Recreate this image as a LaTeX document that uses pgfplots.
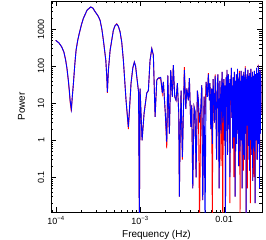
\documentclass[border=0pt]{standalone}
\usepackage{fontspec}
\setmainfont{Liberation Sans}
\usepackage{pgfplots}
\usepackage{pgfplotstable}
\pgfplotsset{compat=1.18}
\pgfplotstableread{
f b r
9.90e-5 500 500
1.08e-4 430 430
1.17e-4 330 330
1.24e-4 240 240
1.30e-4 145 150
1.35e-4 85 85
1.40e-4 42 40
1.44e-4 22 20
1.47e-4 12 11
1.52e-4 7 6
1.56e-4 15 15
1.61e-4 35 35
1.67e-4 110 110
1.73e-4 270 270
1.81e-4 500 500
1.89e-4 780 780
2.00e-4 1300 1300
2.11e-4 1950 1950
2.34e-4 3300 3300
2.59e-4 4000 4000
2.75e-4 3700 3700
2.91e-4 3000 3000
3.16e-4 2300 2300
3.34e-4 1750 1750
3.51e-4 1000 1000
3.66e-4 500 500
3.91e-4 145 145
4.02e-4 50 50
4.08e-4 20 19
4.20e-4 80 80
4.40e-4 270 270
4.81e-4 940 940
5.04e-4 1250 1250
5.28e-4 1370 1400
5.52e-4 1200 1200
5.78e-4 850 850
6.05e-4 450 450
6.33e-4 145 145
6.81e-4 12 12
7.26e-4 2.3 2.0
7.81e-4 35 35
8.20e-4 90 90
8.55e-4 130 130
8.85e-4 100 100
9.14e-4 52 52
9.60e-4 20 20
9.81e-4 0.005 0.005
1.000e-3 25 25
1.057e-3 1.0 1.0
1.117e-3 5.4 5.4
1.202e-3 19 19
1.256e-3 22 22
1.315e-3 145 145
1.378e-3 300 300
1.440e-3 200 200
1.510e-3 4.3 4.3
1.581e-3 42 42
1.652e-3 48 48
1.763e-3 50 45
1.841e-3 19 19
1.893e-3 38 38
1.999e-3 5.3 5.3
2.079e-3 0.9 0.6
2.138e-3 57 57
2.234e-3 1.5 1.5
2.317e-3 78 78
2.420e-3 15 15
2.488e-3 107 107
2.587e-3 15 15
2.683e-3 12 12
2.780e-3 35 33
2.889e-3 5.4 5.4
2.937e-3 0.03 0.03
2.992e-3 0.83 0.83
3.076e-3 22 22
3.191e-3 0.35 0.3
3.368e-3 78 95
3.502e-3 7 7
3.600e-3 25 25
3.760e-3 12 12
3.866e-3 48 48
4.019e-3 2.3 2.3
4.126e-3 9 9
4.240e-3 0.05 0.05
4.395e-3 8 8
4.518e-3 6 6
4.644e-3 0.1 0.1
4.812e-3 22 22
4.948e-3 12 12
5.108e-3 3 0.005
5.281e-3 7 7
5.430e-3 31 31
5.574e-3 0.024 0.024
5.782e-3 15 15
5.943e-3 0.005 5
6.109e-3 38 38
6.327e-3 15 15
6.504e-3 60 65
6.686e-3 12 12
0.00680 35 35
0.00695 2.0 2.0
0.00710 25 25
0.00725 0.8 0.01
0.00740 45 45
0.00755 12 12
0.00770 3 3
0.00785 55 60
0.00800 8 8
0.00815 0.3 0.3
0.00830 30 30
0.00845 60 60
0.00860 5 5
0.00875 0.05 0.05
0.00890 40 40
0.00905 15 15
0.00920 1.5 0.2
0.00935 25 25
0.00950 70 70
0.00965 3 0.005
0.00980 20 20
0.00995 45 45
0.01010 1.0 1.0
0.01025 30 30
0.01040 0.01 0.01
0.01055 50 50
0.01070 8 8
0.01085 80 80
0.01100 0.4 0.4
0.01115 25 25
0.01130 60 60
0.01145 2 2
0.01160 35 35
0.01175 0.1 0.02
0.01190 45 45
0.01205 12 12
0.01220 90 90
0.01235 4 4
0.012500 30 30
0.012575 8 8
0.012650 0.6 0.6
0.012725 15 15
0.012800 50 50
0.012875 4 4
0.012950 18 18
0.013025 35 35
0.013100 1.2 0.1
0.013175 12 12
0.013250 70 70
0.013325 2 2
0.013400 25 25
0.013475 20 20
0.013550 0.03 0.03
0.013625 10 10
0.013700 40 40
0.013775 0.5 0.5
0.013850 8 8
0.013925 25 25
0.014000 60 60
0.014075 3 3
0.014150 0.8 0.8
0.014225 40 40
0.014300 35 35
0.014375 1.5 1.5
0.014450 85 85
0.014525 18 18
0.014600 3 3
0.014675 30 30
0.014750 45 45
0.014825 6 6
0.014900 0.2 0.2
0.014975 0.8 0.8
0.015050 20 20
0.015125 45 45
0.015200 65 75
0.015275 12 12
0.015350 6 6
0.015425 2.5 2.5
0.015500 0.5 0.007
0.015575 20 20
0.015650 40 40
0.015725 28 28
0.015800 15 15
0.015875 5 5
0.015950 75 75
0.016025 1.0 1.0
0.016100 2 2
0.016175 50 50
0.016250 30 30
0.016325 7 7
0.016400 0.05 0.05
0.016475 22 22
0.016550 55 55
0.016625 3 3
0.016700 10 10
0.016775 14 14
0.016850 40 40
0.016925 60 60
0.017000 1.0 0.15
0.017075 0.4 0.4
0.017150 70 70
0.017225 35 35
0.017300 20 20
0.017375 9 9
0.017450 0.3 0.3
0.017525 18 18
0.017600 50 50
0.017675 2 2
0.017750 8 8
0.017825 40 40
0.017900 90 100
0.017975 25 25
0.018050 1.5 1.5
0.018125 6 6
0.018200 35 35
0.018275 0.9 0.9
0.018350 0.01 0.01
0.018425 30 30
0.018500 45 45
0.018575 15 15
0.018650 12 12
0.018725 50 50
0.018800 60 60
0.018875 3.5 3.5
0.018950 2.5 0.05
0.019025 10 10
0.019100 30 30
0.019175 45 45
0.019250 80 80
0.019325 1.2 1.2
0.019400 0.7 0.7
0.019475 20 20
0.019550 25 25
0.019625 8 8
0.019700 55 55
0.019775 35 35
0.019850 4 4
0.019925 0.3 0.3
0.020000 40 40
0.020075 28 28
0.020150 0.15 0.15
0.020225 55 55
0.020300 65 65
0.020375 4 4
0.020450 18 18
0.020525 16 16
0.020600 1.0 0.02
0.020675 40 40
0.020750 45 45
0.020825 2 2
0.020900 85 85
0.020975 12 12
0.021050 6 6
0.021125 30 30
0.021200 30 30
0.021275 7 7
0.021350 0.4 0.4
0.021425 0.6 0.6
0.021500 50 50
0.021575 45 45
0.021650 10 10
0.021725 18 18
0.021800 70 70
0.021875 3 3
0.021950 0.08 0.08
0.022025 25 25
0.022100 35 35
0.022175 50 50
0.022250 2 2
0.022325 1.8 1.8
0.022400 55 55
0.022475 10 10
0.022550 20 20
0.022625 35 35
0.022700 0.6 0.1
0.022775 6 6
0.022850 40 40
0.022925 20 20
0.023000 75 75
0.023075 0.5 0.5
0.023150 5 5
0.023225 40 40
0.023300 30 30
0.023375 14 14
0.023450 0.02 0.02
0.023525 3 3
0.023600 60 60
0.023675 60 60
0.023750 15 15
0.023825 9 9
0.023900 45 45
0.023975 25 25
0.024050 1.2 1.2
0.024125 1.0 1.0
0.024200 25 25
0.024275 45 45
0.024350 90 90
0.024425 12 12
0.024500 3 0.3
0.024575 30 30
0.024650 50 50
0.024725 4 4
0.024800 10 10
0.024875 55 55
0.024950 0.3 0.3
0.025025 0.7 0.7
0.025100 65 65
0.025175 18 18
0.025250 35 35
0.025325 35 35
0.025400 2 2
0.025475 5 5
0.025550 105 110
0.025625 70 70
0.025700 20 20
0.025775 2 2
0.025850 0.8 0.8
0.025925 22 22
0.026000 45 45
0.026075 40 40
0.026150 8 8
0.026225 8 8
0.026300 70 70
0.026375 0.9 0.9
0.026450 0.05 0.05
0.026525 28 28
0.026600 40 40
0.026675 50 50
0.026750 15 15
0.026825 3 3
0.026900 80 80
0.026975 15 15
0.027050 1.5 1.5
0.027125 45 45
0.027200 30 30
0.027275 10 10
0.027350 60 60
0.027425 25 25
0.027500 5 5
}\powerdata
\begin{document}
\begin{tikzpicture}
\useasboundingbox (-51bp,-28bp) rectangle (215bp,212bp);
\begin{axis}[
  scale only axis, width=211bp, height=211bp,
  xmode=log, ymode=log,
  xmin=8.7e-5, xmax=0.0283, ymin=0.0115, ymax=5800,
  xtick={1e-4,1e-3,1e-2},
  xticklabels={10\textsuperscript{−4},10\textsuperscript{−3},0.01},
  minor xtick={9e-5,2e-4,3e-4,4e-4,5e-4,6e-4,7e-4,8e-4,9e-4,2e-3,3e-3,4e-3,5e-3,6e-3,7e-3,8e-3,9e-3,2e-2},
  ytick={0.1,1,10,100,1000},
  yticklabels={0.1,1,10,100,1000},
  minor ytick={0.02,0.03,0.04,0.05,0.06,0.07,0.08,0.09,0.2,0.3,0.4,0.5,0.6,0.7,0.8,0.9,2,3,4,5,6,7,8,9,20,30,40,50,60,70,80,90,200,300,400,500,600,700,800,900,2000,3000,4000,5000},
  tick align=inside, tick pos=both,
  major tick length=5bp, minor tick length=2.5bp,
  every tick/.style={black, line width=0.6bp},
  axis line style={line width=0.8bp},
  tick label style={font=\fontsize{9}{10}\selectfont},
  xticklabel style={inner sep=0pt, anchor=north, yshift=-4.5bp},
  yticklabel style={inner sep=0pt, xshift=-6.5bp, rotate=90, anchor=south},
  xlabel={Frequency (Hz)}, ylabel={Power},
  every axis x label/.style={at={(axis description cs:0.5,-0.1185)}, anchor=base, font=\fontsize{10}{12}\selectfont},
  every axis y label/.style={at={(axis description cs:-0.1232,0.5)}, rotate=90, anchor=base, font=\fontsize{10}{12}\selectfont},
]
\addplot[red, line width=0.9bp] table[x=f,y=r]{\powerdata};
\addplot[blue, line width=0.9bp] table[x=f,y=b]{\powerdata};
\end{axis}
\end{tikzpicture}
\end{document}
